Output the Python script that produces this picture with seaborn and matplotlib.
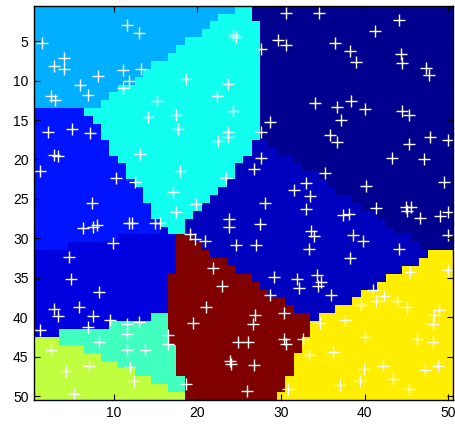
import numpy as np
import matplotlib
matplotlib.use("Agg")
import matplotlib.pyplot as plt
import seaborn as sns
from matplotlib.colors import ListedColormap

# ---- cluster labels and their colours (jet-like) ----
cluster_keys = ["C", "E", "F", "D", "A", "B", "G", "H", "Y", "R"]
cluster_colors = ["#00008F", "#0000BF", "#0000DF", "#0014FF", "#00AFFF",
                  "#10FFEF", "#40FFBF", "#BFFF40", "#FFEE00", "#800000"]

# ---- label map: one run-length string per image row (rows 1..50, top to bottom) ----
row_runs = [
    "A24 B2 C24", "A22 B4 C24", "A21 B6 C23", "A20 B7 C23", "A18 B9 C23",
    "A17 B10 C23", "A16 B11 C23", "A14 B13 C23", "A13 B14 C23", "A12 B15 C23",
    "A10 B17 C23", "A9 B18 C23", "A8 B19 C23", "D6 B21 C23", "D7 B20 C23",
    "D8 B19 C23", "D8 B19 C23", "D9 B17 E2 C22", "D9 B17 E3 C21", "D10 B15 E6 C19",
    "D11 B13 E8 C18", "D11 B13 E10 C16", "D12 B11 E12 C15", "D13 B9 E14 C14", "D13 B8 E17 C12",
    "D14 B6 E19 C11", "D14 B5 E22 C9", "D15 B3 E24 C8", "D15 F1 B2 E25 C7", "D10 F7 R2 E26 C5",
    "D4 F13 R3 E26 C4", "F17 R4 E26 Y3", "F17 R6 E23 Y4", "F17 R7 E20 Y6", "F16 R10 E16 Y8",
    "F16 R11 E14 Y9", "F16 R12 E11 Y11", "F16 R14 E8 Y12", "F16 R15 E5 Y14", "F14 G2 R17 E1 Y16",
    "F9 G7 R17 Y17", "F3 G13 R17 Y17", "H3 G13 R16 Y18", "H6 G11 R15 Y18", "H8 G9 R14 Y19",
    "H10 G7 R14 Y19", "H12 G5 R14 Y19", "H14 G4 R12 Y20", "H16 G2 R12 Y20", "H18 R11 Y21",
]

# ---- sample points (data coordinates, x = column, y = row) ----
pts_x = [11.6, 13.0, 1.5, 4.1, 2.9, 4.1, 11.1, 13.3, 8.1, 11.8, 6.0, 11.1, 2.5, 3.0, 6.9, 15.2, 14.1, 17.5, 2.2, 5.0, 7.2, 17.7,
         30.6, 34.5, 24.3, 24.6, 29.6, 30.6, 27.6, 18.6, 23.7, 22.4, 34.1, 24.3, 28.7, 23.7, 23.7, 27.6, 22.5,
         44.1, 41.2, 36.4, 38.2, 38.9, 44.3, 44.4, 47.3, 47.7, 36.7, 38.4, 40.0, 37.2, 44.4, 45.3, 35.8, 47.8, 50.0,
         36.7, 45.3, 43.3, 47.1, 35.2, 33.0, 40.2, 49.5, 33.5, 41.4, 44.9, 45.5, 45.1, 37.4, 38.1, 46.6, 49.0, 49.9,
         33.0, 33.6, 33.9, 38.6, 39.8, 33.3, 44.1, 50.0, 38.2, 34.3, 45.4, 50.0,
         27.6, 26.8, 31.5, 17.9, 23.4, 17.1, 19.8, 17.5, 28.1, 23.8, 23.8, 27.5, 19.1, 19.7, 20.9, 24.6, 27.0, 21.9,
         2.9, 3.3, 1.2, 13.2, 10.3, 12.6, 7.4, 6.3, 7.5, 8.0, 11.8, 12.2, 15.0, 15.5, 9.9, 4.7,
         4.9, 8.3, 2.9, 3.4, 5.9, 7.5, 9.6, 6.9, 1.2, 11.6, 13.0, 11.6, 8.3, 2.5, 11.6, 13.8, 16.5, 16.5, 11.9, 7.0, 4.3, 12.4, 5.3,
         22.9, 21.0, 19.5, 29.1, 31.9, 32.1, 34.4, 28.7, 30.3, 26.9, 26.7, 24.9, 26.1, 23.9, 24.0, 26.8, 30.3, 30.6, 32.6, 33.3,
         18.7, 25.9, 30.8,
         34.8, 36.0, 41.0, 42.3, 41.4, 39.6, 43.9, 45.0, 48.9, 48.3, 48.1, 37.7, 34.6, 40.0, 46.3, 48.2, 36.2, 42.2, 39.9, 47.2,
         48.7, 39.4, 43.4, 37.0, 45.3]
pts_y = [3.0, 4.0, 5.2, 7.1, 8.2, 8.5, 8.7, 8.5, 9.4, 10.1, 10.5, 10.9, 12.0, 12.4, 11.8, 12.6, 14.6, 14.4, 16.5, 16.1, 16.7, 16.2,
         1.4, 1.4, 4.2, 4.5, 4.9, 5.5, 6.0, 9.8, 10.4, 11.9, 12.8, 13.8, 15.3, 16.5, 17.2, 16.5, 17.6,
         2.3, 3.7, 5.2, 6.3, 7.6, 6.6, 7.8, 8.4, 9.3, 13.4, 12.6, 13.6, 15.0, 13.8, 14.4, 16.9, 17.2, 17.5,
         17.8, 18.0, 19.8, 19.9, 21.7, 23.0, 23.4, 22.8, 24.6, 26.1, 26.0, 26.0, 26.5, 27.0, 26.9, 27.4, 27.2, 26.7,
         26.3, 29.1, 29.7, 29.6, 30.4, 31.3, 31.3, 29.6, 32.5, 34.6, 34.3, 34.0,
         19.8, 21.2, 23.9, 21.4, 22.3, 24.1, 25.7, 26.7, 25.5, 27.5, 28.5, 28.2, 29.4, 30.1, 30.3, 30.9, 30.9, 33.8,
         19.4, 19.6, 21.4, 19.3, 22.3, 22.9, 25.5, 28.7, 28.5, 28.3, 28.0, 28.1, 28.1, 28.1, 30.6, 32.4,
         35.1, 36.8, 39.0, 39.9, 38.7, 39.8, 40.4, 41.3, 41.6, 40.8, 40.6, 42.1, 43.1, 44.1, 44.2, 44.2, 42.3, 43.4, 46.3, 46.2, 46.8, 48.1, 49.7,
         36.0, 38.7, 40.7, 34.9, 35.1, 36.3, 36.1, 37.2, 39.5, 39.7, 40.9, 43.2, 43.2, 45.5, 45.9, 46.1, 42.8, 43.4, 42.8, 44.8,
         48.5, 49.3, 49.1,
         35.5, 37.2, 36.5, 37.3, 38.0, 38.4, 37.9, 38.7, 39.1, 39.7, 40.8, 40.4, 40.7, 42.5, 42.8, 43.2, 44.4, 46.2, 46.6, 46.7,
         46.2, 48.1, 47.9, 48.6, 49.1]

xtick_vals = [10, 20, 30, 40, 50]
ytick_vals = [5, 10, 15, 20, 25, 30, 35, 40, 45, 50]

# ---- build the label grid from the run strings ----
key_index = {k: i for i, k in enumerate(cluster_keys)}
grid = []
for spec in row_runs:
    row = []
    for tok in spec.split():
        row += [key_index[tok[0]]] * int(tok[1:])
    if len(row) != 50:
        raise ValueError(f"row length {len(row)} for {spec}")
    grid.append(row)
grid = np.array(grid)

plt.rcParams["font.family"] = ["Liberation Sans", "DejaVu Sans"]

fig = plt.figure(figsize=(4.56, 4.24), dpi=100)
ax = fig.add_axes([0.0748, 0.0566, 0.9178, 0.930])

cmap = ListedColormap(cluster_colors)
sns.heatmap(grid, cmap=cmap, vmin=-0.5, vmax=len(cluster_keys) - 0.5, cbar=False,
            ax=ax, xticklabels=False, yticklabels=False)

sns.scatterplot(x=np.array(pts_x) - 0.5, y=np.array(pts_y) - 0.5, marker="+",
                color="white", s=68, linewidth=1.0, ax=ax, legend=False)

ax.set_xlim(0, 50)
ax.set_ylim(50, 0)
ax.set_xticks(np.array(xtick_vals) - 0.5)
ax.set_xticklabels([str(v) for v in xtick_vals], rotation=0)
ax.set_yticks(np.array(ytick_vals) - 0.5)
ax.set_yticklabels([str(v) for v in ytick_vals], rotation=0)
ax.set_xlabel("")
ax.set_ylabel("")
ax.tick_params(direction="in", length=4, width=0.8, top=True, right=True,
               labelsize=10, colors="black", pad=4)
for sp in ax.spines.values():
    sp.set_visible(True)
    sp.set_color("black")
    sp.set_linewidth(1.0)

fig.savefig("out.png", dpi=100)
